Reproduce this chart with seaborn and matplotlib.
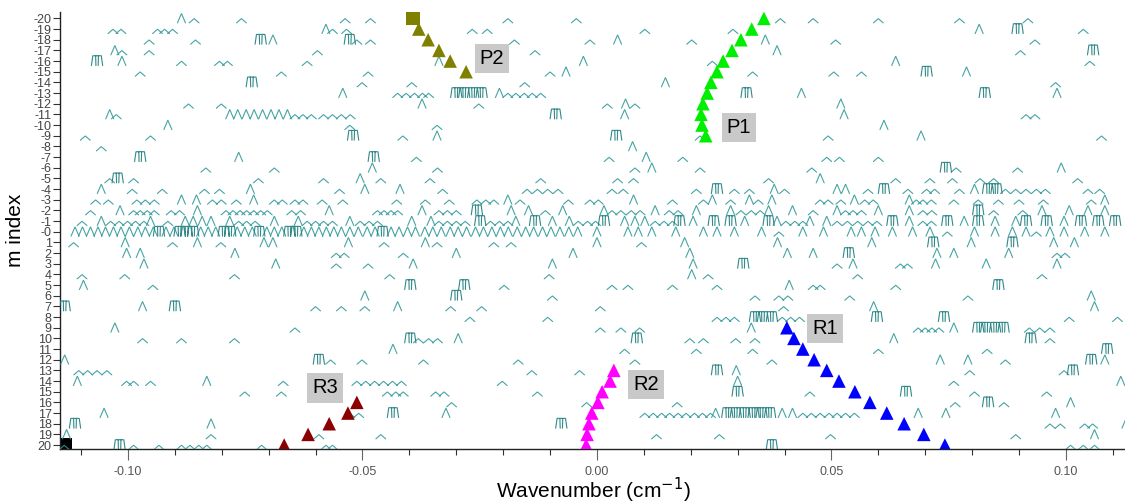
import numpy as np
import pandas as pd
import matplotlib
matplotlib.use("Agg")
import matplotlib.pyplot as plt
from matplotlib import font_manager
from matplotlib.ticker import FixedLocator
import seaborn as sns

# ---------------------------------------------------------------- data
X_UNIT = 1e-3   # glyph positions below are given in 10^-3 cm^-1

# small "^" shaped lines : (m row, [positions])
SMALL_PEAKS = [
    (-20, [-85.9, -75.8, -53.7, -48.3, -19.0, -4.4, 39.1, 46.1, 60.0, 77.3, 91.9]),
    (-19, [-103.2, -101.5, -93.7, -92.2, -90.5, -56.4, -53.4, -26.6, -23.4, 10.2, 29.0, 103.7]),
    (-18, [-95.5, -85.6, -51.2, -48.3, -17.6, -1.5, 20.2, 50.9, 93.4]),
    (-17, [-101.3, -95.5, -59.6, -13.2, 90.3]),
    (-16, [-88.6, -80.5, -78.8, -61.8, 24.6, 105.1]),
    (-15, [-97.4, -67.3, -48.8, -10.0, 33.2, 50.5, 56.4]),
    (-14, [-50.1, -39.5, -15.4, 97.8]),
    (-13, [-42.5, -40.7, -38.9, -37.2, -35.9, -19.0, -17.3, -15.5, -13.8, -12.0]),
    (-12, [-87.1, -80.1, -25.2, 2.2, 8.1]),
    (-11, [-102.5, -64.4, -62.7, -60.9, -58.3, -56.4, -54.5, -52.6, 91.5, 93.4]),
    (-10, [-52.7, -34.1]),
    (-9, [-109.1, -95.2, -41.4, 22.0, 49.3, 107.6]),
    (-8, [-105.7]),
    (-7, [-38.5, 2.6, 18.3, 49.0, 51.7, 60.0]),
    (-6, [-83.4, -68.8, -34.0, 8.1, 22.0, 45.8, 76.6, 89.7]),
    (-5, [-103.9, -98.8, -72.2, -58.3, -46.1, -35.6, -12.0, 4.4, 7.8, 36.6, 63.7, 71.0,
          75.8, 81.7, 84.6, 102.5]),
    (-4, [-99.1, -92.7, -83.7, -80.5, -54.9, -32.9, -14.9, -12.7, -10.5, -8.3, 3.2, 5.6,
          21.2, 29.3, 32.5, 40.0, 57.8, 66.3, 70.3, 72.0, 77.3, 87.1, 89.3, 91.5, 93.7,
          95.6, 104.7, 107.2]),
    (-3, [-106.9, -104.2, -98.1, -96.3, -94.4, -82.0, -80.1, -76.9, -68.8, -67.1, -64.4,
          -62.7, -58.6, -54.2, -42.7, -36.6, -31.5, -25.6, -23.7, -22.0, -16.4, -6.1, -1.5,
          0.3, 16.1, 22.7, 28.5, 34.4, 47.6, 49.3, 52.0, 57.1, 58.9, 68.1, 69.5, 71.3, 76.1,
          81.3, 85.6, 90.0, 95.2, 105.4]),
    (-2, [-108.0, -98.8, -97.4, -95.9, -94.4, -90.8, -89.0, -79.1, -77.6, -76.1, -74.7,
          -73.2, -71.7, -70.3, -65.1, -63.2, -46.8, -45.4, -43.9, -42.5, -33.7, -31.9,
          -30.0, -11.0, 3.2, 5.1, 7.3, 9.2, 15.4, 17.3, 30.7, 32.9, 34.8, 46.1, 53.0, 54.6,
          56.4, 69.5, 71.4, 84.6, 90.8]),
    (-1, [-109.8, -103.7, -101.9, -100.1, -98.4, -96.6, -91.5, -76.4, -74.7, -72.9, -61.8,
          -60.0, -58.3, -56.4, -50.5, -48.6, -46.8, -33.7, -31.9, -30.0, -28.1, -22.7,
          -20.8, -19.0, -4.0, -2.0, -0.3, 12.4, 14.3, 16.1, 40.3, 42.2, 43.9, 51.2, 53.4,
          55.6, 57.8, 59.7, 69.5, 71.3]),
    (0, [38.8, 74.7, 93.7]),
    (1, [-111.6, -90.5, -80.2, -45.4, -34.1, -22.0, -18.3, 9.5]),
    (2, [-55.6, -53.9, -41.3, 98.1, 99.8]),
    (3, [-55.6, -48.8, 51.2, 64.7, 66.2]),
    (4, [-109.8, -100.7, -77.3, -44.2, -10.2, 23.7, 55.6, 94.9]),
    (5, [-94.7, -19.8, 3.2, 6.6, 16.1, 25.6, 46.1, 47.6, 63.7]),
    (6, [-9.5, 33.7, 38.8, 40.7, 53.9, 79.1]),
    (7, [-60.0, -54.5, -49.5, -31.2, -24.6, 0.7, 39.8]),
    (8, [-27.1, -10.5, 25.6, 27.5, 29.3, 39.5, 41.3, 43.2, 100.7, 111.0]),
    (9, [-64.4, 0.7, 5.1, 9.1, 68.5, 70.0, 71.4, 72.9, 92.2, 94.4, 96.6]),
    (10, [-96.9, -88.6, -77.3, -38.1, -35.9, -34.0, 19.8, 22.7, 29.6, 33.7, 96.6]),
    (11, [5.9, 21.2, 33.2, 60.0, 83.2]),
    (12, [-56.8, -50.1, -37.0, -16.8, 8.1, 37.3, 87.1]),
    (13, [-110.5, -108.6, -106.6, -104.5, -13.9, -3.7, 79.5, 99.6]),
    (14, [-100.3, -98.8, -95.2, -66.9, -51.2, -49.3, -47.4, -45.5, -43.6, -41.7, -20.2, 76.1]),
    (15, [-75.1, -67.3, -44.7, -42.9, -41.3, -34.4, -32.6, -12.7, 45.4, 80.5, 95.9]),
    (16, [-51.2, -31.0, -2.2, 17.1, 76.4, 86.8]),
    (17, [-52.7, -50.8, 10.2, 12.0, 13.8, 15.5, 17.3, 19.0, 20.8, 22.5, 24.2, 43.9, 45.7,
          47.6, 49.5, 51.2, 53.0, 54.9]),
    (18, [96.6, 98.8, 104.0, 105.7]),
    (19, [-82.3, -59.3, -46.1, 12.7, 26.1, 49.8, 89.3]),
    (20, [-113.6, -98.8, -93.4, -88.6, -86.8, -84.9, -83.2, -71.5, -57.8, -56.4, 101.0, 103.7, 106.1]),
]

# tall "Λ" shaped lines
TALL_PEAKS = [
    (-20, [-88.6]),
    (-19, [-57.8, 81.5]),
    (-18, [-69.1, 4.4, 35.9]),
    (-17, [-102.8, 38.4]),
    (-16, [-101.3, -33.7, -2.9, 63.7]),
    (-15, [-6.6, 78.8]),
    (-14, [14.6]),
    (-13, [-54.2, -20.8, 43.6, 98.1]),
    (-12, [-37.3, 6.1, 52.0]),
    (-11, [-103.9, -78.3, -76.6, -74.8, -73.1, -71.3, -69.5, -67.8, -66.0, 5.9, 52.7]),
    (-10, [-91.5, 61.2]),
    (-9, [-34.1, 69.1]),
    (-8, [7.6]),
    (-7, [-76.4, 10.5]),
    (-6, [-47.9, 11.7, 99.0]),
    (-5, [-50.5, 47.6]),
    (-4, [-105.7, -73.9, -49.5, -42.0, 37.8, 51.2, 53.0, 80.5]),
    (-3, [-88.6, -85.4, -73.2, -19.0, 7.8, 24.6, 32.5, 37.3, 54.9, 66.6, 108.3]),
    (-2, [-101.7, -85.2, -57.1, -37.3, -18.3, -14.6, -7.3, 1.5, 12.4, 21.2, 28.5, 36.6,
          41.7, 51.2, 60.0, 66.6, 94.9, 100.7, 104.7, 108.3]),
    (-1, [-105.7, -95.2, -87.8, -86.1, -84.2, -82.3, -78.3, -68.8, -63.7, -52.7, -39.5,
          -35.4, -17.3, -9.5, -5.9, 5.9, 8.1, 10.2, 20.5, 31.5, 38.4, 45.4, 49.0, 66.6,
          78.3, 84.9, 89.3, 99.6]),
    (0, [-111.3, -109.7, -108.0, -106.4, -104.8, -103.1, -101.5, -99.7, -97.9, -96.3,
         -94.6, -91.9, -90.2, -84.5, -82.9, -81.3, -76.7, -75.1, -73.5, -70.4, -68.8,
         -67.2, -62.5, -60.9, -59.3, -57.7, -56.1, -54.5, -52.7, -50.9, -49.0, -47.3,
         -43.9, -42.2, -40.4, -38.7, -36.7, -35.0, -33.2, -31.3, -29.6, -27.8, -25.9,
         -24.2, -22.4, -20.6, -18.9, -17.0, -15.2, -13.5, -11.6, -9.8, -7.9, -6.0, -4.1,
         0.0, 6.6, 8.8, 11.7, 16.8, 22.7, 25.6, 29.3, 35.1, 43.9, 48.3, 54.2, 56.4, 59.3,
         63.0, 67.3, 71.0, 80.5, 84.9, 88.6, 91.5, 96.6, 99.6, 104.0, 108.3]),
    (1, [-100.6, -85.2, -71.0, -69.1, -53.0, -36.6, 0.0, 18.7, 38.5, 58.6, 79.8, 97.4, 101.8]),
    (2, [-100.3, -97.4, -77.2, -30.0, -5.1, 19.8, 40.6, 46.1, 72.5, 76.1, 87.8]),
    (3, [-96.6, -68.5, -39.2, -9.5, 20.5, 54.6, 72.2, 83.0, 98.1]),
    (4, [20.2]),
    (5, [-109.5, 41.0]),
    (6, [-49.5, 105.4]),
    (7, [-96.9, -42.5, 59.0, 106.1]),
    (9, [-102.8, 32.9, 76.1]),
    (10, [-29.6, 63.3]),
    (11, [-43.5]),
    (12, [-113.5, 73.2, 79.1, 108.3]),
    (13, [29.7]),
    (14, [-110.8, -83.2, 30.0, 111.7]),
    (16, [101.0]),
    (17, [-105.1, -32.2, 25.3, 39.5, 41.7, 68.5, 74.4, 97.8]),
    (18, [-82.3, 112.8]),
    (19, [-113.1, 106.1]),
]

# flat-topped "Π" (comb) shaped lines
BOX_PEAKS = [
    (-19, [89.7]),
    (-18, [-71.7, -52.7]),
    (-17, [105.8]),
    (-16, [-106.6]),
    (-15, [70.3]),
    (-14, [-73.6]),
    (-13, [-30.0, -28.3, -26.4, -24.6, 31.9, 82.7]),
    (-11, [-8.8]),
    (-9, [-52.0, 4.1]),
    (-7, [-97.4, -47.6]),
    (-6, [74.4]),
    (-5, [-102.2]),
    (-4, [25.6, 61.2, 83.4, 85.2]),
    (-2, [-25.6, 81.3]),
    (-1, [-24.9, -13.2, 1.5, 17.6, 24.9, 28.5, 36.6, 63.0, 74.7, 81.3, 91.5, 95.9, 103.2,
          106.9, 110.5]),
    (0, [-93.4, -89.0, -87.5, -86.1, -79.6, -78.2, -72.0, -65.6, -64.1, -45.7]),
    (1, [71.7, 88.6]),
    (2, [53.7]),
    (3, [31.2]),
    (5, [-39.8, -28.3, 85.6]),
    (6, [-30.0]),
    (7, [-113.5, -90.0]),
    (8, [33.7, 35.4, 37.3, 59.7, 74.0]),
    (9, [81.3, 83.0, 84.9, 86.7]),
    (10, [-39.8, 8.5, 92.5]),
    (11, [108.8]),
    (12, [-59.3, 105.4]),
    (13, [25.6, 101.5]),
    (15, [30.0, 65.9]),
    (16, [83.4]),
    (17, [-43.5, 27.8, 29.6, 31.5, 33.4, 35.1, 36.9]),
    (18, [-111.3, -7.6]),
    (20, [-101.8, 37.3]),
]

# assigned branches (wavenumber in cm^-1, m index)
P1_m = [-20, -19, -18, -17, -16, -15, -14, -13, -12, -11, -10, -9]
P1_x = [0.0356, 0.0330, 0.0307, 0.0288, 0.0269, 0.0256, 0.0243, 0.0235, 0.0226, 0.0222, 0.0224, 0.0232]
P2_m = [-19, -18, -17, -16, -15]
P2_x = [-0.0380, -0.0360, -0.0337, -0.0313, -0.0279]
P2_sq_m = [-20]
P2_sq_x = [-0.0392]
R1_m = [9, 10, 11, 12, 13, 14, 15, 16, 17, 18, 19, 20]
R1_x = [0.0405, 0.0420, 0.0439, 0.0463, 0.0490, 0.0516, 0.0550, 0.0582, 0.0618, 0.0655, 0.0697, 0.0742]
R2_m = [13, 14, 15, 16, 17, 18, 19, 20]
R2_x = [0.0036, 0.0028, 0.0011, 0.0002, -0.0011, -0.0017, -0.0021, -0.0023]
R3_m = [16, 17, 18, 19, 20]
R3_x = [-0.0512, -0.0531, -0.0571, -0.0616, -0.0667]
REF_m = [20]
REF_x = [-0.1135]

BRANCH_LABELS = ["P2", "P1", "R1", "R2", "R3"]
LABEL_x = [-0.0224, 0.0303, 0.0486, 0.0104, -0.0580]
LABEL_m = [-16.2, -9.8, 9.1, 14.35, 14.65]

Y_TICKS = list(range(-20, 21))
Y_TICKLABELS = [("-0" if v == 0 else str(v)) for v in Y_TICKS]
X_TICKS = [-0.10, -0.05, 0.0, 0.05, 0.10]
X_TICKLABELS = ["-0.10", "-0.05", "0.00", "0.05", "0.10"]
X_MINOR = [-0.11, -0.09, -0.08, -0.07, -0.06, -0.04, -0.03, -0.02, -0.01,
           0.01, 0.02, 0.03, 0.04, 0.06, 0.07, 0.08, 0.09, 0.11]

# ---------------------------------------------------------------- style
sns.set_theme(style="white")
plt.rcParams["font.family"] = ["Liberation Sans", "DejaVu Sans"]
names = {f.name for f in font_manager.fontManager.ttflist}
narrow = "Liberation Sans Narrow" if "Liberation Sans Narrow" in names else "Liberation Sans"

TEAL = "#339a9a"
TEAL_DARK = "#1b7c7c"


def to_frame(groups):
    rows = []
    for m, xs in groups:
        for x in xs:
            rows.append((x * X_UNIT, m))
    return pd.DataFrame(rows, columns=["x", "m"])


def glyph_paths(df, shape, base_off=0.42):
    """Polyline for each line glyph, built around its (x, m) position."""
    xs, ys = [], []
    for x, m in zip(df["x"], df["m"]):
        b = m + base_off
        if shape == "small":
            w, h = 0.00105, 0.40
            px = [x - w, x, x + w]
            py = [b, b - h, b]
        elif shape == "tall":
            w, h = 0.00085, 0.88
            px = [x - w, x, x + w]
            py = [b, b - h, b]
        else:
            w, h = 0.00120, 0.92
            px = [x - w, x - 0.75 * w, x + 0.75 * w, x + w, np.nan,
                  x - 0.25 * w, x - 0.2 * w, np.nan, x + 0.25 * w, x + 0.2 * w]
            py = [b, b - h, b - h, b, np.nan, b - h, b, np.nan, b - h, b]
        xs += px + [np.nan]
        ys += py + [np.nan]
    return np.array(xs), np.array(ys)


fig = plt.figure(figsize=(11.25, 5.03), dpi=100)
ax = fig.add_axes([60 / 1125, 54 / 503, 1065 / 1125, 437 / 503])

# reference black square (under the glyphs)
sns.scatterplot(x=REF_x, y=REF_m, marker="s", s=90, color="black", linewidth=0,
                ax=ax, zorder=2, legend=False)

small_df = to_frame(SMALL_PEAKS)
tall_df = to_frame(TALL_PEAKS)
box_df = to_frame(BOX_PEAKS)
for df, shape, col, lw in [(small_df, "small", TEAL, 0.8),
                           (tall_df, "tall", TEAL, 0.8),
                           (box_df, "box", TEAL_DARK, 0.8)]:
    gx, gy = glyph_paths(df, shape)
    ax.plot(gx, gy, color=col, lw=lw, alpha=0.9, zorder=3, solid_joinstyle="miter")

branches = pd.concat([
    pd.DataFrame({"x": P1_x, "m": P1_m, "branch": "P1"}),
    pd.DataFrame({"x": P2_x, "m": P2_m, "branch": "P2"}),
    pd.DataFrame({"x": R1_x, "m": R1_m, "branch": "R1"}),
    pd.DataFrame({"x": R2_x, "m": R2_m, "branch": "R2"}),
    pd.DataFrame({"x": R3_x, "m": R3_m, "branch": "R3"}),
], ignore_index=True)
palette = {"P1": "#00ee00", "P2": "#808000", "R1": "#0000ff", "R2": "#ff00ff", "R3": "#8b0000"}
sns.scatterplot(data=branches, x="x", y="m", hue="branch", palette=palette, marker="^",
                s=95, linewidth=0, ax=ax, zorder=4, legend=False)
sns.scatterplot(x=P2_sq_x, y=P2_sq_m, marker="s", s=95, color="#808000", linewidth=0,
                ax=ax, zorder=4, legend=False)

for lab, lx, lm in zip(BRANCH_LABELS, LABEL_x, LABEL_m):
    ax.text(lx, lm, lab, ha="center", va="center", fontsize=14.5, color="black", zorder=5,
            bbox=dict(boxstyle="square,pad=0.25", facecolor="#c9c9c9", edgecolor="none"))

# axes
ax.set_xlim(-0.1145, 0.1126)
ax.set_ylim(20.37, -20.6)
ax.set_yticks(Y_TICKS)
ax.set_yticklabels(Y_TICKLABELS, fontsize=9, color="#444444", family=narrow)
ax.set_xticks(X_TICKS)
ax.set_xticklabels(X_TICKLABELS, fontsize=9, color="#555555", family=narrow)
ax.xaxis.set_minor_locator(FixedLocator(X_MINOR))
ax.tick_params(axis="y", which="major", direction="out", length=5, width=0.8,
               color="#333333", pad=1, left=True)
ax.tick_params(axis="x", which="major", direction="out", length=8, width=0.8,
               color="#666666", pad=4, bottom=True)
ax.tick_params(axis="x", which="minor", direction="out", length=4, width=0.8,
               color="#333333", bottom=True)
for side in ["top", "right"]:
    ax.spines[side].set_visible(False)
for side in ["left", "bottom"]:
    ax.spines[side].set_color("#222222")
    ax.spines[side].set_linewidth(1.0)
ax.grid(False)
ax.set_xlabel("Wavenumber (cm$^{-1}$)", fontsize=15, color="black")
ax.xaxis.set_label_coords(0.501, -0.094)
ax.xaxis.label.set_verticalalignment("center")
ax.set_ylabel("m index", fontsize=15, color="black")
ax.yaxis.set_label_coords(-0.042, 0.5)
ax.yaxis.label.set_verticalalignment("center")
ax.set_facecolor("white")

fig.savefig("out.png", dpi=100, facecolor="white")
